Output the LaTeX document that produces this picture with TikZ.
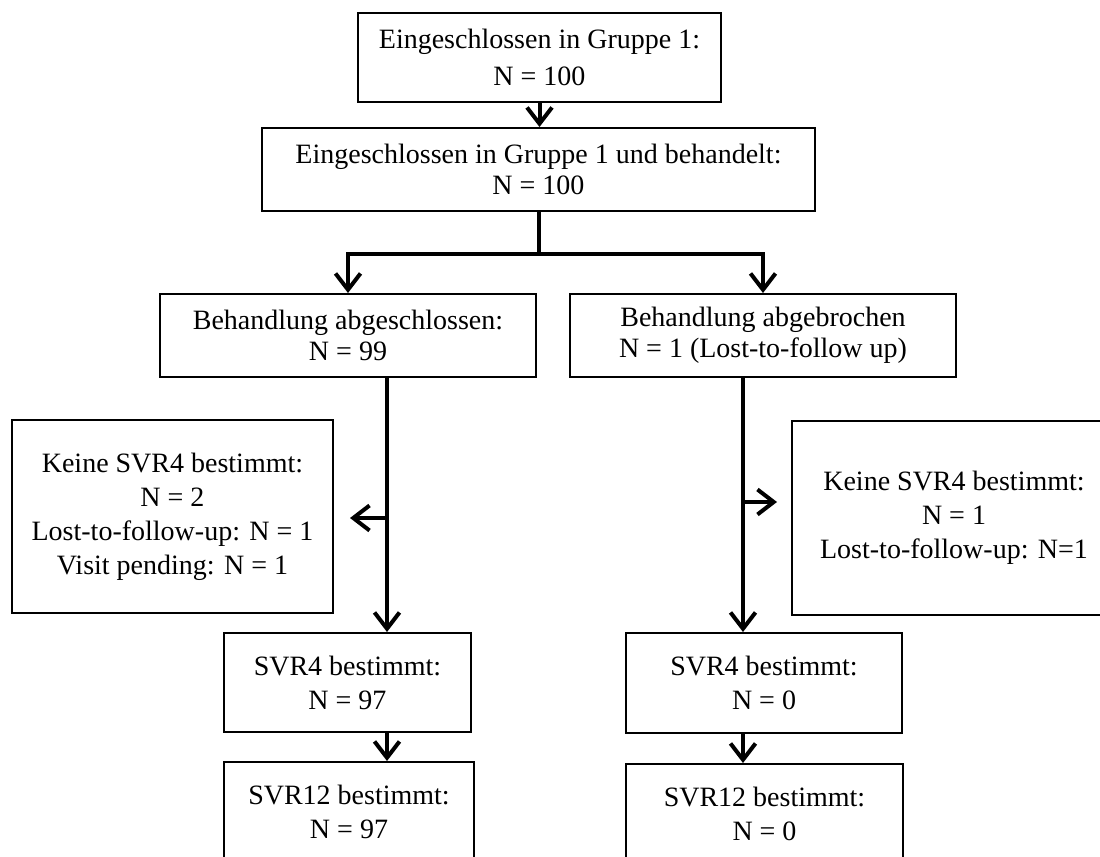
\documentclass[tikz,border=0pt]{standalone}
\usepackage{fontspec}
\setmainfont{Liberation Serif}
\usetikzlibrary{arrows.meta}

\begin{document}
\begin{tikzpicture}[x=0.4pt,y=-0.4pt,
		box/.style={draw,line width=0.8pt,inner sep=0pt,align=center,font=\fontsize{11.2}{13.6}\selectfont},
		arr/.style={-{Straight Barb[length=6.5pt,width=10pt]},line width=1.6pt}]
					\path[use as bounding box,clip] (0,0) rectangle (1100,857);

					\node[box,minimum width=145.2pt,minimum height=35.6pt] (inc) at (539.5,57.5) {Eingeschlossen in Gruppe 1:\\[1.5pt] N = 100};
					\node[box,minimum width=221.2pt,minimum height=33.2pt] (trt) at (538.5,169.5) {Eingeschlossen in Gruppe 1 und behandelt:\\[-1pt] N = 100};
					\node[box,minimum width=150.4pt,minimum height=33.2pt] (cmp) at (348,335.5) {Behandlung abgeschlossen:\\[-1pt] N = 99};
					\node[box,minimum width=154.4pt,minimum height=33.2pt] (abr) at (763,335.5) {Behandlung abgebrochen\\[-1pt] N = 1 (Lost-to-follow up)};
					\node[box,minimum width=128.4pt,minimum height=77.2pt] (nsl) at (172.5,516.5) {Keine SVR4 bestimmt:\\ N = 2\\ Lost-to-follow-up: N = 1\\ Visit pending: N = 1};
					\node[box,minimum width=129.6pt,minimum height=77.6pt] (nsr) at (954,518) {Keine SVR4 bestimmt:\\ N = 1\\ Lost-to-follow-up: N=1};
					\node[box,minimum width=98.8pt,minimum height=39.6pt] (s4l) at (347.5,682.5) {SVR4 bestimmt:\\ N = 97};
					\node[box,minimum width=100pt,minimum height=39.6pt] (s12l) at (349,811.5) {SVR12 bestimmt:\\ N = 97};
					\node[box,minimum width=110.4pt,minimum height=40pt] (s4r) at (764,683) {SVR4 bestimmt:\\ N = 0};
					\node[box,minimum width=110.8pt,minimum height=39.6pt] (s12r) at (764.5,813.5) {SVR12 bestimmt:\\ N = 0};

					\coordinate (lx) at (387,0);
					\coordinate (rx) at (743,0);
					\coordinate (lbr) at (387,518);
					\coordinate (rbr) at (743,502);

					\draw[arr] (inc.south) -- (inc.south |- trt.north);
					\draw[arr] (trt.south) -- ++(0,42) -| (cmp.north);
					\draw[arr] (trt.south) ++(0,42) -| (abr.north);

					\draw[arr] (cmp.south -| lx) -- (s4l.north -| lx);
					\draw[arr] (lbr) -- ++(-37,0);
					\draw[arr] (s4l.south -| lx) -- (s12l.north -| lx);

					\draw[arr] (abr.south -| rx) -- (s4r.north -| rx);
					\draw[arr] (rbr) -- ++(34,0);
					\draw[arr] (s4r.south -| rx) -- (s12r.north -| rx);
				\end{tikzpicture}
\end{document}
